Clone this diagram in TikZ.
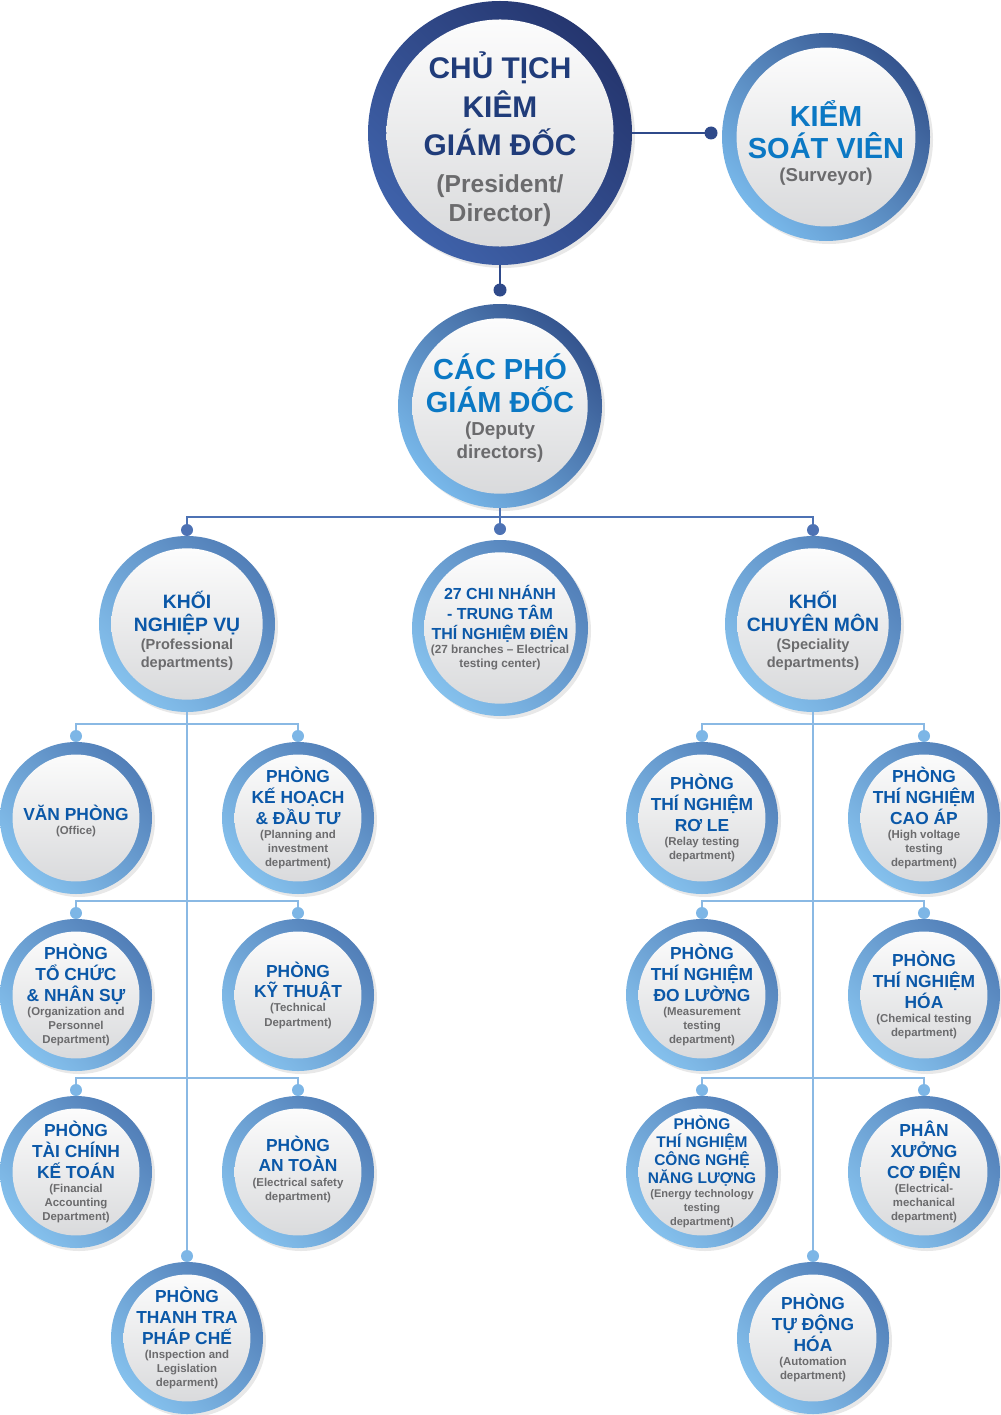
\documentclass[tikz,border=0pt]{standalone}
\usepackage{fontspec}
\setmainfont{Liberation Sans}
\usetikzlibrary{calc,positioning,shadows}

\definecolor{navyring}{HTML}{25366F}
\definecolor{navyringlt}{HTML}{3F62AA}
\definecolor{midring}{HTML}{35558F}
\definecolor{midringlt}{HTML}{78B8EA}
\definecolor{lowring}{HTML}{527FB8}
\definecolor{lowringlt}{HTML}{85C1ED}
\definecolor{navytext}{HTML}{203C7A}
\definecolor{brighttext}{HTML}{0B78C4}
\definecolor{depttext}{HTML}{0B58A8}
\definecolor{notetext}{HTML}{6B6B6D}
\definecolor{navyline}{HTML}{2F4A8A}
\definecolor{midline}{HTML}{4D72B4}
\definecolor{lowline}{HTML}{8AB9E4}
\definecolor{lowdotc}{HTML}{7DB6E6}
\definecolor{discbottom}{HTML}{D6D7D9}

% title and note of one circle
\newcommand{\ctext}[3][0pt]{\makebox[0pt]{\parbox{60mm}{\centering\vspace*{#1}\ttlfont #2\par\notefont #3\par}}}

\begin{document}
\begin{tikzpicture}[x=0.2mm, y=-0.2mm, disc ratio/.initial=0.86]
	\tikzstyle{ring} = [circle, inner sep=0pt, outer sep=0pt, drop shadow={opacity=0.18, shadow xshift=0.6mm, shadow yshift=-0.6mm},
		path picture={\shade[top color=white, bottom color=discbottom] let \p1 = (path picture bounding box.east), \p2 = (path picture bounding box.center) in (\p2) circle [radius={\pgfkeysvalueof{/tikz/disc ratio}*(\x1-\x2)}];}]
	\tikzstyle{presring} = [ring, minimum size=52.8mm, top color=navyring, bottom color=navyringlt, shading angle=-45,
		font={\def\ttlfont{\fontsize{17}{22}\selectfont\bfseries\color{navytext}}\def\notefont{\fontsize{14}{16.5}\selectfont\bfseries\color{notetext}}}]
	\tikzstyle{survring} = [ring, minimum size=41.6mm, top color=midring, bottom color=midringlt, shading angle=-45,
		font={\def\ttlfont{\fontsize{16.5}{18}\selectfont\bfseries\color{brighttext}}\def\notefont{\fontsize{10.6}{13}\selectfont\bfseries\color{notetext}}}]
	\tikzstyle{depring} = [ring, minimum size=40.8mm, top color=midring, bottom color=midringlt, shading angle=-45,
		font={\def\ttlfont{\fontsize{16.5}{18.7}\selectfont\bfseries\color{brighttext}}\def\notefont{\fontsize{10.7}{13}\selectfont\bfseries\color{notetext}}}]
	\tikzstyle{unitring} = [ring, minimum size=35.2mm, top color=lowring, bottom color=lowringlt, shading angle=-45,
		font={\def\ttlfont{\fontsize{11}{13}\selectfont\bfseries\color{depttext}}\def\notefont{\fontsize{8.3}{10.2}\selectfont\bfseries\color{notetext}}}]
	\tikzstyle{branchring} = [ring, minimum size=35.2mm, top color=lowring, bottom color=lowringlt, shading angle=-45,
		font={\def\ttlfont{\fontsize{9.1}{11.3}\selectfont\bfseries\color{depttext}}\def\notefont{\fontsize{6.7}{8}\selectfont\bfseries\color{notetext}}}]
	\tikzstyle{deptring} = [ring, minimum size=30.4mm, disc ratio=0.835, top color=lowring, bottom color=lowringlt, shading angle=-45,
		font={\def\ttlfont{\fontsize{9.9}{11.9}\selectfont\bfseries\color{depttext}}\def\notefont{\fontsize{6.5}{8}\selectfont\bfseries\color{notetext}}}]
	\tikzstyle{topdot} = [circle, fill=navyline, minimum size=2.6mm, inner sep=0pt, outer sep=0pt]
	\tikzstyle{middot} = [circle, fill=midline, minimum size=2.4mm, inner sep=0pt, outer sep=0pt]
	\tikzstyle{lowdot} = [circle, fill=lowdotc, minimum size=2.4mm, inner sep=0pt, outer sep=0pt]
	\tikzstyle{toplink} = [draw=navyline, line width=0.4mm]
	\tikzstyle{midlink} = [draw=midline, line width=0.4mm]
	\tikzstyle{lowlink} = [draw=lowline, line width=0.5mm]

	\useasboundingbox (0,0) rectangle (1000,1415);

	\node [presring] (pres) at (500,133) {\ctext[7pt]{CHỦ TỊCH\\KIÊM\\GIÁM ĐỐC}{\vspace*{4.3pt}(President/\\Director)}};
	\node [topdot, right = 14.5mm of pres] (survdot) {};
	\node [survring] (surv) at (826,137) {\ctext[6.8pt]{KIỂM\\SOÁT VIÊN}{(Surveyor)}};
	\node [topdot, below = 3.7mm of pres] (presdot) {};
	\node [depring] (dep) at (500,406) {\ctext[2.3pt]{CÁC PHÓ\\GIÁM ĐỐC}{(Deputy\\directors)}};
	\node [coordinate, below = 1.8mm of dep] (depbus) {};

	\node [unitring] (nv) at (187,624) {\ctext[8pt]{KHỐI\\NGHIỆP VỤ}{(Professional\\departments)}};
	\node [branchring] (br) at (500,628) {\ctext{27 CHI NHÁNH\\- TRUNG TÂM\\THÍ NGHIỆM ĐIỆN}{(27 branches – Electrical\\testing center)}};
	\node [unitring] (cm) at (813,624) {\ctext[8pt]{KHỐI\\CHUYÊN MÔN}{(Speciality\\departments)}};
	\node [middot, above = 0mm of nv] (nvdot) {};
	\node [middot, below = 1.2mm of depbus] (brdot) {};
	\node [middot, above = 0mm of cm] (cmdot) {};

	% professional departments
	\node [deptring] (vanphong) at (76,818) {\ctext[3.4pt]{VĂN PHÒNG}{(Office)}};
	\node [deptring] (kehoach) at (298,818) {\ctext{PHÒNG\\KẾ HOẠCH\\\& ĐẦU TƯ}{(Planning and\\investment\\department)}};
	\node [deptring] (tochuc) at (76,995) {\ctext{PHÒNG\\TỔ CHỨC\\\& NHÂN SỰ}{(Organization and\\Personnel\\Department)}};
	\node [deptring] (kythuat) at (298,995) {\ctext{PHÒNG\\KỸ THUẬT}{(Technical\\Department)}};
	\node [deptring] (taichinh) at (76,1172) {\ctext{PHÒNG\\TÀI CHÍNH\\KẾ TOÁN}{(Financial\\Accounting\\Department)}};
	\node [deptring] (antoan) at (298,1172) {\ctext[-3.4pt]{PHÒNG\\AN TOÀN}{(Electrical safety\\department)}};
	\node [deptring] (thanhtra) at (187,1338) {\ctext{PHÒNG\\THANH TRA\\PHÁP CHẾ}{(Inspection and\\Legislation\\deparment)}};

	% speciality departments
	\node [deptring] (rele) at (702,818) {\ctext{PHÒNG\\THÍ NGHIỆM\\RƠ LE}{(Relay testing\\department)}};
	\node [deptring] (caoap) at (924,818) {\ctext{PHÒNG\\THÍ NGHIỆM\\CAO ÁP}{(High voltage\\testing\\department)}};
	\node [deptring] (doluong) at (702,995) {\ctext{PHÒNG\\THÍ NGHIỆM\\ĐO LƯỜNG}{(Measurement\\testing\\department)}};
	\node [deptring] (hoa) at (924,995) {\ctext{PHÒNG\\THÍ NGHIỆM\\HÓA}{(Chemical testing\\department)}};
	\node [deptring, font={\def\ttlfont{\fontsize{8.8}{10.2}\selectfont\bfseries\color{depttext}}\def\notefont{\fontsize{6.3}{8}\selectfont\bfseries\color{notetext}}}] (nangluong) at (702,1172) {\ctext{PHÒNG\\THÍ NGHIỆM\\CÔNG NGHỆ\\NĂNG LƯỢNG}{(Energy technology\\testing\\department)}};
	\node [deptring] (codien) at (924,1172) {\ctext{PHÂN\\XƯỞNG\\CƠ ĐIỆN}{(Electrical-\\mechanical\\department)}};
	\node [deptring] (tudong) at (813,1338) {\ctext{PHÒNG\\TỰ ĐỘNG\\HÓA}{(Automation\\department)}};

	\node [lowdot, above = 0mm of vanphong] (vanphongdot) {};
	\node [lowdot, above = 0mm of kehoach] (kehoachdot) {};
	\node [lowdot, above = 0mm of tochuc] (tochucdot) {};
	\node [lowdot, above = 0mm of kythuat] (kythuatdot) {};
	\node [lowdot, above = 0mm of taichinh] (taichinhdot) {};
	\node [lowdot, above = 0mm of antoan] (antoandot) {};
	\node [lowdot, above = 0mm of thanhtra] (thanhtradot) {};
	\node [lowdot, above = 0mm of rele] (reledot) {};
	\node [lowdot, above = 0mm of caoap] (caoapdot) {};
	\node [lowdot, above = 0mm of doluong] (doluongdot) {};
	\node [lowdot, above = 0mm of hoa] (hoadot) {};
	\node [lowdot, above = 0mm of nangluong] (nangluongdot) {};
	\node [lowdot, above = 0mm of codien] (codiendot) {};
	\node [lowdot, above = 0mm of tudong] (tudongdot) {};
	\node [coordinate, above = 1.2mm of vanphongdot] (nvbus1) {};
	\node [coordinate, above = 1.2mm of tochucdot] (nvbus2) {};
	\node [coordinate, above = 1.2mm of taichinhdot] (nvbus3) {};
	\node [coordinate, above = 1.2mm of reledot] (cmbus1) {};
	\node [coordinate, above = 1.2mm of doluongdot] (cmbus2) {};
	\node [coordinate, above = 1.2mm of nangluongdot] (cmbus3) {};

	\draw [toplink] (pres) -- (survdot);
	\draw [toplink] (pres) -- (presdot);
	\draw [midlink] (dep) -- (brdot);
	\draw [midlink] (nvdot) -- (nvdot |- depbus) -- (cmdot |- depbus) -- (cmdot);

	\draw [lowlink] (nv) -- (thanhtradot);
	\draw [lowlink] (vanphongdot) -- (nvbus1) -- (nvbus1 -| kehoachdot) -- (kehoachdot);
	\draw [lowlink] (tochucdot) -- (nvbus2) -- (nvbus2 -| kythuatdot) -- (kythuatdot);
	\draw [lowlink] (taichinhdot) -- (nvbus3) -- (nvbus3 -| antoandot) -- (antoandot);

	\draw [lowlink] (cm) -- (tudongdot);
	\draw [lowlink] (reledot) -- (cmbus1) -- (cmbus1 -| caoapdot) -- (caoapdot);
	\draw [lowlink] (doluongdot) -- (cmbus2) -- (cmbus2 -| hoadot) -- (hoadot);
	\draw [lowlink] (nangluongdot) -- (cmbus3) -- (cmbus3 -| codiendot) -- (codiendot);
\end{tikzpicture}
\end{document}
